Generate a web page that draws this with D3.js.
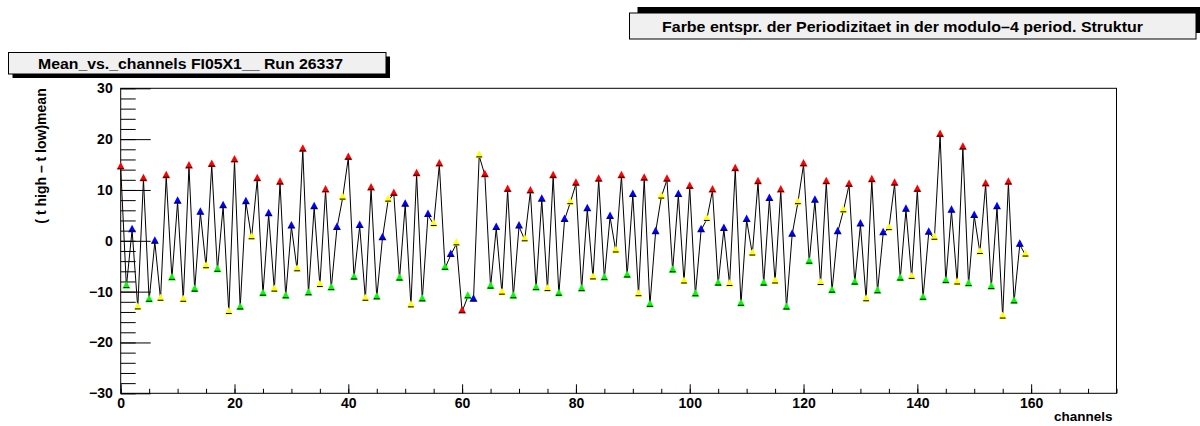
<!DOCTYPE html>
<html>
<head>
<meta charset="utf-8">
<script src="https://cdn.jsdelivr.net/npm/d3@7"></script>
<style>
  body { margin: 0; background: #fff; }
  svg { display: block; font-family: "Liberation Sans", Arial, sans-serif; font-weight: bold; }
</style>
</head>
<body>
<div id="chart"></div>
<script>
// mean (t high - t low) per channel
const meanValues = [
  14.4, -9.0, 2.1, -13.2, 12.1, -11.7, -0.2, -11.5, 12.7, -7.4, 7.7, -11.7,
  14.6, -9.7, 5.5, -5.1, 14.9, -5.8, 6.8, -14.1, 15.8, -13.2, 7.6, 0.6,
  12.1, -10.5, 5.2, -9.7, 11.4, -11.0, 2.8, -5.7, 17.9, -10.4, 6.6, -8.8,
  9.9, -9.4, 2.5, 8.4, 16.3, -7.3, 2.9, -11.5, 10.3, -11.2, 0.5, 8.0,
  9.2, -7.5, 7.1, -12.8, 13.1, -11.6, 5.1, 3.2, 15.0, -5.4, -2.8, -0.6,
  -13.9, -11.0, -11.6, 16.7, 12.9, -9.1, 2.5, -10.3, 10.0, -11.0, 2.8, 0.2,
  9.7, -9.4, 8.1, -9.6, 12.7, -10.5, 4.1, 7.5, 11.2, -9.6, 6.2, -7.3,
  12.0, -7.4, 4.7, -2.0, 12.7, -6.9, 9.0, -10.6, 12.2, -12.7, 1.7, 8.6,
  12.0, -5.9, 9.0, -8.1, 10.6, -10.6, 2.1, 4.2, 9.9, -8.5, 2.3, -8.6,
  14.1, -12.5, 4.1, -2.6, 11.5, -8.5, 8.2, -8.1, 9.9, -13.2, 1.2, 7.5,
  15.0, -4.2, 7.9, -8.4, 11.5, -9.9, 1.7, 5.9, 11.0, -8.3, 3.2, -11.6,
  11.9, -10.0, 1.5, 2.4, 11.2, -7.5, 6.1, -7.2, 10.0, -11.3, 1.6, 0.5,
  20.8, -8.0, 5.9, -8.3, 18.3, -8.6, 4.9, -2.3, 11.1, -9.2, 6.6, -15.0,
  11.4, -12.0, -0.8, -2.8
];
const channels = d3.range(meanValues.length);

const xTicks = [0, 20, 40, 60, 80, 100, 120, 140, 160];
const xMinorTicks = d3.range(0, 176, 5);
const yTicks = [-30, -20, -10, 0, 10, 20, 30];
const yMinorTicks = d3.range(-30, 31, 2);

const titleText = "Mean_vs._channels FI05X1__ Run 26337";
const legendText = "Farbe entspr. der Periodizitaet in der modulo\u20134 period. Struktur";
const xTitle = "channels";
const yTitle = "( t high \u2013 t low)mean";

// colour by channel modulo 4
const periodColors = ["#ff0000", "#00ff00", "#0000ff", "#ffff00"];

const width = 1200, height = 426;
const frame = { left: 120.7, right: 1116.5, top: 88.3, bottom: 393.3 };

const svg = d3.select("#chart").append("svg")
  .attr("width", width)
  .attr("height", height);

const x = d3.scaleLinear().domain([0, 175]).range([frame.left, frame.right]);
const y = d3.scaleLinear().domain([-30, 30]).range([frame.bottom, frame.top]);

// frame
svg.append("rect")
  .attr("x", frame.left).attr("y", frame.top)
  .attr("width", frame.right - frame.left)
  .attr("height", frame.bottom - frame.top)
  .attr("fill", "none").attr("stroke", "#000").attr("stroke-width", 1);

// x axis, ticks pointing inside
const gx = svg.append("g").attr("transform", `translate(0,${frame.bottom})`);
gx.call(d3.axisBottom(x).tickValues(xMinorTicks).tickSize(-4.5).tickFormat(""));
gx.append("g").call(d3.axisBottom(x).tickValues(xTicks).tickSize(-9).tickPadding(5).tickFormat(d3.format("d")));
gx.selectAll(".domain").remove();
gx.selectAll("text").attr("font-size", 14).attr("font-family", "Liberation Sans, Arial, sans-serif")
  .attr("font-weight", "bold").attr("fill", "#000");

// y axis, long ticks as in the original
const gy = svg.append("g").attr("transform", `translate(${frame.left},0)`);
gy.call(d3.axisLeft(y).tickValues(yMinorTicks).tickSize(-15).tickFormat(""));
gy.append("g").call(d3.axisLeft(y).tickValues(yTicks).tickSize(-30).tickPadding(8).tickFormat(d => d < 0 ? "\u2212" + Math.abs(d) : d));
gy.selectAll(".domain").remove();
gy.selectAll("text").attr("font-size", 14).attr("font-family", "Liberation Sans, Arial, sans-serif")
  .attr("font-weight", "bold").attr("fill", "#000");
svg.selectAll(".tick line").attr("stroke", "#000");

// axis titles
svg.append("text")
  .attr("x", frame.right - 4).attr("y", 421)
  .attr("text-anchor", "end").attr("font-size", 13.5)
  .text(xTitle);

svg.append("text")
  .attr("transform", `translate(46,${frame.top}) rotate(-90)`)
  .attr("text-anchor", "end").attr("font-size", 14)
  .text(yTitle);

// polyline through the points
const line = d3.line().x(i => x(i)).y(i => y(meanValues[i]));
svg.append("path")
  .datum(channels)
  .attr("d", line)
  .attr("fill", "none").attr("stroke", "#000").attr("stroke-width", 1);

// markers: filled triangle with black x-error bar
const marks = svg.append("g").selectAll("g")
  .data(channels)
  .enter().append("g")
  .attr("transform", i => `translate(${x(i)},${y(meanValues[i])})`);

marks.append("path")
  .attr("d", "M0,-5.5L-4,2L4,2Z")
  .attr("fill", i => periodColors[i % 4]);

marks.append("line")
  .attr("x1", i => x(i - 0.5) - x(i)).attr("x2", i => x(i + 0.5) - x(i))
  .attr("y1", 1).attr("y2", 1)
  .attr("stroke", "#000").attr("stroke-width", 1);

// boxes with shadow
function pave(x0, y0, w, h, dx, dy, label, tx, ty, size, len) {
  svg.append("rect").attr("x", x0 + dx).attr("y", y0 + dy)
    .attr("width", w).attr("height", h).attr("fill", "#000");
  svg.append("rect").attr("x", x0).attr("y", y0)
    .attr("width", w).attr("height", h)
    .attr("fill", "#f0f0f0").attr("stroke", "#000").attr("stroke-width", 1);
  svg.append("text").attr("x", tx).attr("y", ty)
    .attr("text-anchor", "middle").attr("font-size", size)
    .attr("textLength", len).attr("lengthAdjust", "spacingAndGlyphs")
    .text(label);
}

pave(8.5, 52.5, 377.5, 21.5, 4, 4, titleText, 190.5, 68.5, 14.5, 305);
pave(629.5, 13, 566.5, 26, 8, -6, legendText, 902.5, 31.5, 14, 481);
</script>
</body>
</html>
